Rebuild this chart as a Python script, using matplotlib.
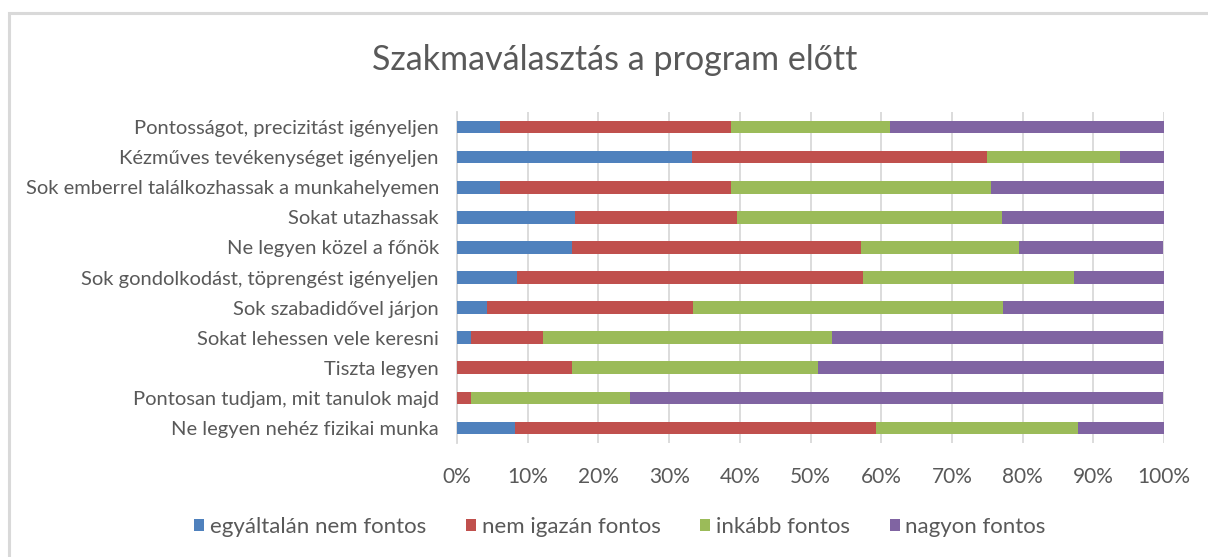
import matplotlib.pyplot as plt
from matplotlib.patches import Rectangle
from matplotlib.ticker import PercentFormatter

# adatok (százalék, felülről lefelé)
categories = [
    "Pontosságot, precizitást igényeljen",
    "Kézműves tevékenységet igényeljen",
    "Sok emberrel találkozhassak a munkahelyemen",
    "Sokat utazhassak",
    "Ne legyen közel a főnök",
    "Sok gondolkodást, töprengést igényeljen",
    "Sok szabadidővel járjon",
    "Sokat lehessen vele keresni",
    "Tiszta legyen",
    "Pontosan tudjam, mit tanulok majd",
    "Ne legyen nehéz fizikai munka",
]
egyaltalan_nem = [6.1, 33.3, 6.1, 16.7, 16.3, 8.5, 4.2, 2.0, 0.0, 0.0, 8.2]
nem_igazan = [32.7, 41.7, 32.7, 22.9, 40.8, 48.9, 29.2, 10.2, 16.3, 2.0, 51.0]
inkabb = [22.4, 18.8, 36.7, 37.5, 22.4, 29.8, 43.8, 40.8, 34.7, 22.4, 28.6]
nagyon = [38.8, 6.2, 24.5, 22.9, 20.4, 12.8, 22.9, 46.9, 49.0, 75.5, 12.2]

series = [egyaltalan_nem, nem_igazan, inkabb, nagyon]
labels = ["egyáltalán nem fontos", "nem igazán fontos", "inkább fontos", "nagyon fontos"]
colors = ["#4f81bd", "#c0504d", "#9bbb59", "#8064a2"]

plt.rcParams["font.family"] = ["Lato", "DejaVu Sans"]
text_color = "#595959"

fig = plt.figure(figsize=(12.08, 5.57), dpi=100)
ax = fig.add_axes([457 / 1208, 1 - 443 / 557, 707 / 1208, 331 / 557])

# keret
fig.patches.append(Rectangle((9 / 1208, -0.1), 1.2, 1 - 13 / 557 + 0.1,
                             transform=fig.transFigure, fill=False,
                             edgecolor="#d9d9d9", linewidth=2.2))

y = list(range(len(categories)))
left = [0.0] * len(categories)
for vals, lab, col in zip(series, labels, colors):
    ax.barh(y, vals, left=left, height=0.42, color=col, label=lab, zorder=3)
    left = [l + v for l, v in zip(left, vals)]

ax.set_xlim(0, 100)
ax.set_ylim(len(categories) - 0.5, -0.5)
ax.set_yticks(y)
ax.set_yticklabels(categories, fontsize=14.5, color=text_color)
ax.set_xticks(range(0, 101, 10))
ax.xaxis.set_major_formatter(PercentFormatter(decimals=0))
ax.tick_params(axis="x", labelsize=15, colors=text_color, length=0, pad=17)
ax.tick_params(axis="y", length=0, pad=13)
ax.grid(axis="x", color="#d9d9d9", linewidth=1.3, zorder=0)
for s in ["top", "right", "bottom"]:
    ax.spines[s].set_visible(False)
ax.spines["left"].set_color("#d9d9d9")
ax.spines["left"].set_linewidth(1.3)

fig.text(615 / 1208, 1 - 60 / 557, "Szakmaválasztás a program előtt",
         ha="center", va="center", fontsize=24.5, color=text_color)

fig.legend(loc="center", bbox_to_anchor=(620 / 1208, 1 - 527 / 557), ncol=4,
           frameon=False, fontsize=16, labelcolor=text_color,
           handlelength=0.45, handleheight=0.45, handletextpad=0.25, columnspacing=1.8)

fig.savefig("out.png", dpi=100)
